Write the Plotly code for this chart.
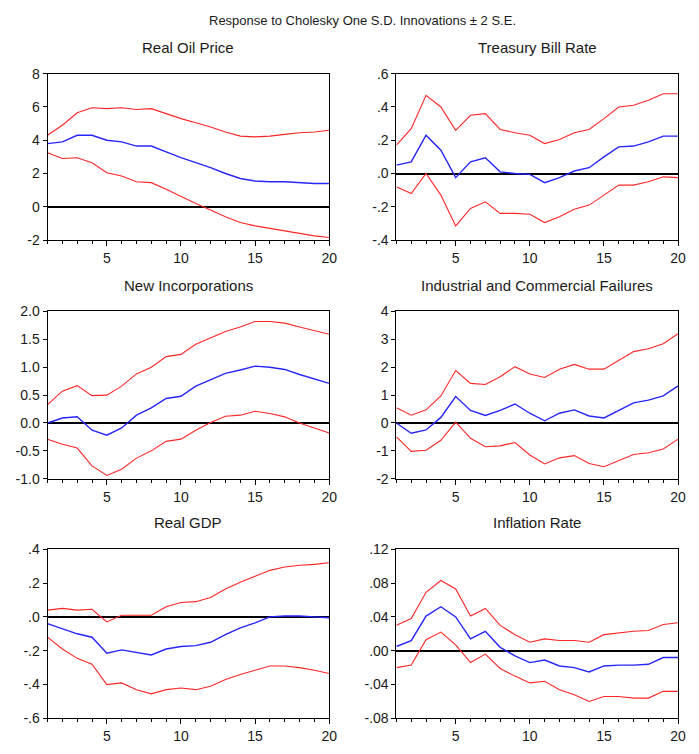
import plotly.graph_objects as go

# Browser window is 699x754; the page body has a default 8px margin,
# so the figure is sized to fit inside it and positions are offset.
WIN_W, WIN_H = 699, 754
OFF = 8
W, H = WIN_W - 2 * OFF, WIN_H - 2 * OFF

periods = list(range(1, 21))

titles = ["Real Oil Price", "Treasury Bill Rate", "New Incorporations",
          "Industrial and Commercial Failures", "Real GDP", "Inflation Rate"]

oil_irf = [3.8, 3.9, 4.3, 4.3, 4.0, 3.9, 3.65, 3.65, 3.3, 2.95, 2.65, 2.35, 2.0, 1.7, 1.55, 1.5, 1.5, 1.45, 1.4, 1.4]
oil_up = [4.3, 4.9, 5.65, 5.95, 5.9, 5.95, 5.85, 5.9, 5.6, 5.3, 5.05, 4.8, 4.5, 4.25, 4.2, 4.25, 4.35, 4.45, 4.5, 4.6]
oil_lo = [3.25, 2.9, 2.95, 2.65, 2.05, 1.85, 1.5, 1.45, 1.05, 0.6, 0.2, -0.2, -0.6, -0.95, -1.15, -1.3, -1.45, -1.6, -1.75, -1.85]

tb_irf = [0.05, 0.07, 0.23, 0.14, -0.025, 0.07, 0.095, 0.01, 0.0, -0.005, -0.055, -0.025, 0.015, 0.035, 0.1, 0.16, 0.165, 0.19, 0.225, 0.225]
tb_up = [0.17, 0.27, 0.47, 0.4, 0.26, 0.35, 0.36, 0.265, 0.245, 0.23, 0.18, 0.205, 0.245, 0.265, 0.33, 0.4, 0.41, 0.44, 0.48, 0.48]
tb_lo = [-0.08, -0.12, 0.0, -0.13, -0.315, -0.21, -0.17, -0.24, -0.24, -0.245, -0.295, -0.26, -0.215, -0.19, -0.13, -0.07, -0.07, -0.05, -0.02, -0.025]

ni_irf = [0.0, 0.09, 0.11, -0.13, -0.22, -0.09, 0.14, 0.27, 0.44, 0.48, 0.66, 0.78, 0.89, 0.95, 1.02, 1.0, 0.96, 0.87, 0.79, 0.71]
ni_up = [0.33, 0.57, 0.67, 0.49, 0.5, 0.66, 0.88, 1.0, 1.19, 1.23, 1.41, 1.52, 1.64, 1.72, 1.82, 1.82, 1.79, 1.72, 1.66, 1.59]
ni_lo = [-0.29, -0.38, -0.45, -0.77, -0.94, -0.83, -0.63, -0.5, -0.33, -0.29, -0.13, 0.01, 0.12, 0.14, 0.21, 0.17, 0.11, 0.0, -0.09, -0.18]

icf_irf = [0.0, -0.37, -0.25, 0.2, 0.95, 0.45, 0.27, 0.45, 0.68, 0.35, 0.08, 0.35, 0.47, 0.25, 0.18, 0.45, 0.72, 0.82, 0.97, 1.33]
icf_up = [0.55, 0.28, 0.47, 0.97, 1.88, 1.42, 1.38, 1.66, 2.02, 1.76, 1.63, 1.93, 2.1, 1.93, 1.93, 2.25, 2.56, 2.66, 2.84, 3.2]
icf_lo = [-0.5, -1.02, -0.98, -0.62, 0.03, -0.55, -0.85, -0.82, -0.7, -1.15, -1.47, -1.25, -1.17, -1.45, -1.57, -1.35, -1.13, -1.07, -0.93, -0.58]

gdp_irf = [-0.04, -0.07, -0.1, -0.12, -0.215, -0.195, -0.21, -0.225, -0.19, -0.175, -0.17, -0.15, -0.105, -0.065, -0.035, 0.0, 0.005, 0.005, 0.0, -0.005]
gdp_up = [0.04, 0.05, 0.04, 0.045, -0.03, 0.01, 0.01, 0.01, 0.06, 0.085, 0.09, 0.115, 0.165, 0.205, 0.24, 0.275, 0.295, 0.305, 0.31, 0.32]
gdp_lo = [-0.12, -0.19, -0.245, -0.28, -0.4, -0.39, -0.43, -0.455, -0.43, -0.42, -0.43, -0.41, -0.37, -0.34, -0.315, -0.29, -0.29, -0.3, -0.315, -0.335]

inf_irf = [0.005, 0.012, 0.041, 0.052, 0.04, 0.014, 0.023, 0.004, -0.006, -0.014, -0.011, -0.018, -0.02, -0.025, -0.018, -0.017, -0.017, -0.016, -0.008, -0.008]
inf_up = [0.03, 0.038, 0.069, 0.083, 0.073, 0.041, 0.05, 0.03, 0.019, 0.01, 0.014, 0.012, 0.012, 0.01, 0.019, 0.021, 0.023, 0.024, 0.031, 0.033]
inf_lo = [-0.02, -0.017, 0.013, 0.022, 0.007, -0.014, -0.004, -0.021, -0.03, -0.038, -0.036, -0.046, -0.052, -0.06, -0.054, -0.054, -0.056, -0.056, -0.048, -0.048]

series = [(oil_irf, oil_up, oil_lo), (tb_irf, tb_up, tb_lo), (ni_irf, ni_up, ni_lo),
          (icf_irf, icf_up, icf_lo), (gdp_irf, gdp_up, gdp_lo), (inf_irf, inf_up, inf_lo)]

y_ranges = [(-2, 8), (-0.4, 0.6), (-1.0, 2.0), (-2, 4), (-0.6, 0.4), (-0.08, 0.12)]
y_tickvals = [[-2, 0, 2, 4, 6, 8],
              [-0.4, -0.2, 0.0, 0.2, 0.4, 0.6],
              [-1.0, -0.5, 0.0, 0.5, 1.0, 1.5, 2.0],
              [-2, -1, 0, 1, 2, 3, 4],
              [-0.6, -0.4, -0.2, 0.0, 0.2, 0.4],
              [-0.08, -0.04, 0.0, 0.04, 0.08, 0.12]]
y_ticktext = [["-2", "0", "2", "4", "6", "8"],
              ["-.4", "-.2", ".0", ".2", ".4", ".6"],
              ["-1.0", "-0.5", "0.0", "0.5", "1.0", "1.5", "2.0"],
              ["-2", "-1", "0", "1", "2", "3", "4"],
              ["-.6", "-.4", "-.2", ".0", ".2", ".4"],
              ["-.08", "-.04", ".00", ".04", ".08", ".12"]]
x_tickvals = [5, 10, 15, 20]
x_ticktext = ["5", "10", "15", "20"]

# panel pixel boxes in window coordinates (left, right) / (top, bottom)
cols = [(48, 333), (401, 686)]
rows = [(67, 237), (310, 481), (553, 726)]


def px_x(p):
    return (p - OFF) / W


def px_y(p):
    return 1 - (p - OFF) / H


RED = "#FF2626"
BLUE = "#2626FF"
FONT = "Liberation Sans, Arial, sans-serif"
TXT = "#1a1a1a"

fig = go.Figure()
annotations = []
for i, (irf, up, lo) in enumerate(series):
    r, c = divmod(i, 2)
    xl, xr = cols[c]
    yt, yb = rows[r]
    xa = "x" if i == 0 else f"x{i+1}"
    ya = "y" if i == 0 else f"y{i+1}"
    for vals, col, w in ((up, RED, 1.1), (lo, RED, 1.1), (irf, BLUE, 1.4)):
        fig.add_trace(go.Scatter(x=periods, y=vals, mode="lines",
                                 line=dict(color=col, width=w),
                                 xaxis=xa, yaxis=ya, showlegend=False,
                                 hoverinfo="skip"))
    xkey = "xaxis" if i == 0 else f"xaxis{i+1}"
    ykey = "yaxis" if i == 0 else f"yaxis{i+1}"
    fig.update_layout({
        xkey: dict(domain=[px_x(xl), px_x(xr)], anchor=ya, range=[1, 20],
                   tickmode="array", tickvals=x_tickvals, ticktext=x_ticktext,
                   ticks="outside", ticklen=5, tickcolor="black", tickwidth=1,
                   minor=dict(tickmode="linear", tick0=0, dtick=1, ticks="outside",
                              ticklen=3, tickcolor="black", tickwidth=1),
                   showline=True, mirror=True, linecolor="black", linewidth=1,
                   showgrid=False, zeroline=False,
                   tickfont=dict(family=FONT, size=14, color=TXT)),
        ykey: dict(domain=[px_y(yb), px_y(yt)], anchor=xa,
                   range=list(y_ranges[i]),
                   tickmode="array", tickvals=y_tickvals[i], ticktext=y_ticktext[i],
                   ticks="outside", ticklen=4, tickcolor="black", tickwidth=1,
                   showline=True, mirror=True, linecolor="black", linewidth=1,
                   showgrid=False, zeroline=True, zerolinecolor="black",
                   zerolinewidth=1.5,
                   tickfont=dict(family=FONT, size=14, color=TXT)),
    })
    annotations.append(dict(text=titles[i], xref="paper", yref="paper",
                            x=px_x((xl + xr) / 2), y=px_y(yt - 27),
                            xanchor="center", yanchor="middle", showarrow=False,
                            font=dict(family=FONT, size=15, color=TXT)))

annotations.append(dict(text="Response to Cholesky One S.D. Innovations \u00b1 2 S.E.",
                        xref="paper", yref="paper", x=px_x(367), y=px_y(13),
                        xanchor="center", yanchor="middle", showarrow=False,
                        font=dict(family=FONT, size=13, color=TXT)))

fig.update_layout(width=W, height=H, margin=dict(l=0, r=0, t=0, b=0),
                  paper_bgcolor="white", plot_bgcolor="white",
                  annotations=annotations, showlegend=False)

fig.write_html("out.html")
